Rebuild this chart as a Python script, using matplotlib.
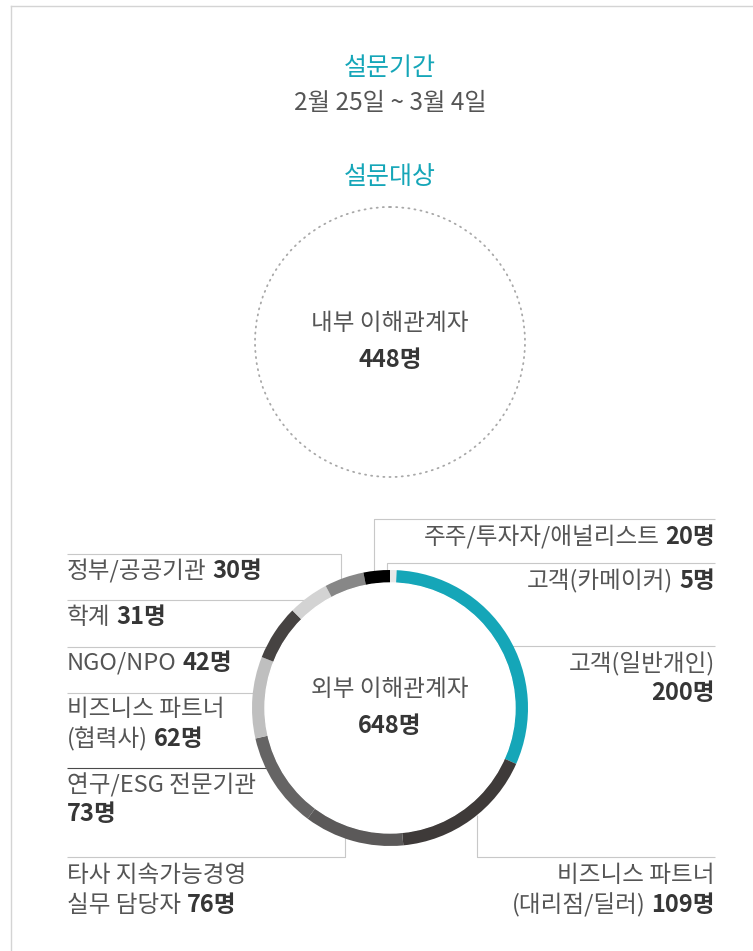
import matplotlib
matplotlib.use("Agg")
import matplotlib.pyplot as plt
import matplotlib.patches as patches

plt.rcParams["font.family"] = ["Noto Sans CJK KR", "DejaVu Sans"]

# ===============================
# DATOS
# ===============================
period_title = "설문기간"
period_text = "2월 25일 ~ 3월 4일"
target_title = "설문대상"

internal_label = "내부 이해관계자"
internal_count = 448
external_label = "외부 이해관계자"

# segmentos en el sentido de las agujas del reloj, desde arriba
seg_values = [5, 200, 109, 76, 73, 62, 42, 31, 30, 20]
seg_colors = ["#e8e8e8", "#15a6b8", "#3e3a39", "#5b5959", "#656464",
              "#bfbfbf", "#464342", "#d3d3d3", "#878787", "#000000"]
# (texto, número) por línea
seg_labels = [
    [("고객(카메이커)", "5명")],
    [("고객(일반개인)", ""), ("", "200명")],
    [("비즈니스 파트너", ""), ("(대리점/딜러)", "109명")],
    [("타사 지속가능경영", ""), ("실무 담당자", "76명")],
    [("연구/ESG 전문기관", ""), ("", "73명")],
    [("비즈니스 파트너", ""), ("(협력사)", "62명")],
    [("NGO/NPO", "42명")],
    [("학계", "31명")],
    [("정부/공공기관", "30명")],
    [("주주/투자자/애널리스트", "20명")],
]

# ===============================
# LAYOUT (pixeles)
# ===============================
W, H = 753, 951
CX, CY, R, RW = 390, 708, 138, 13
TEAL = "#15a6b8"
TXT = "#555555"
NUM = "#363636"
LINE = "#c8c8c8"
FS = 17
LH = 29

# posición de cada etiqueta: (x, y primera línea, alineación)
label_pos = [
    (715, 581, "right"),
    (715, 664, "right"),
    (715, 876, "right"),
    (67, 876, "left"),
    (67, 785, "left"),
    (67, 710, "left"),
    (67, 663, "left"),
    (67, 617, "left"),
    (67, 571, "left"),
    (715, 537, "right"),
]
# líneas guía: lista de puntos
leaders = [
    ([715, 387, 387], [563, 563, 575], LINE),
    ([715, 505], [646, 646], LINE),
    ([715, 477, 477], [857, 857, 815], LINE),
    ([67, 345, 345], [857, 857, 835], LINE),
    ([67, 275], [768, 768], "#4a4a4a"),
    ([67, 270], [693, 693], LINE),
    ([67, 275], [647, 647], LINE),
    ([67, 310], [600, 600], LINE),
    ([67, 341, 341], [554, 554, 580], LINE),
    ([715, 374, 374], [519, 519, 575], LINE),
]

fig = plt.figure(figsize=(W / 100, H / 100), dpi=100)
ax = fig.add_axes([0, 0, 1, 1])
fig.patch.set_facecolor("white")

# borde de la tarjeta
ax.plot([11, 11], [6, H], color="#d4d4d4", lw=1.0, zorder=1)
ax.plot([11, W], [6, 6], color="#d4d4d4", lw=1.0, zorder=1)

# cabecera
ax.text(CX, 68, period_title, color=TEAL, fontsize=18, ha="center", va="center")
ax.text(CX, 103, period_text, color=TXT, fontsize=17.5, ha="center", va="center")
ax.text(CX, 177, target_title, color=TEAL, fontsize=18, ha="center", va="center")

# círculo punteado (internos)
ax.add_patch(patches.Circle((CX, 342), 135, fill=False, ec="#a8a8a8", lw=1.3,
                            ls=(0, (0.6, 2.8)), capstyle="round", zorder=2))
ax.text(CX, 323, internal_label, color=TXT, fontsize=FS, ha="center", va="center")
ax.text(CX, 360, f"{internal_count}명", color=NUM, fontsize=FS, weight="bold",
        ha="center", va="center")

# líneas guía
for xs, ys, c in leaders:
    ax.plot(xs, ys, color=c, lw=0.8, zorder=2, solid_capstyle="butt")

# dona (externos)
ax.pie(seg_values, colors=seg_colors, startangle=-90, counterclock=True,
       radius=R, center=(CX, CY), frame=True,
       wedgeprops=dict(width=RW, linewidth=0, zorder=3))
ax.add_patch(patches.Circle((CX, CY), R - RW, color="white", zorder=3))
ax.text(CX, 690, external_label, color=TXT, fontsize=FS, ha="center", va="center",
        zorder=4)
ax.text(CX, 726, f"{sum(seg_values)}명", color=NUM, fontsize=FS, weight="bold",
        ha="center", va="center", zorder=4)

ax.set_xlim(0, W)
ax.set_ylim(H, 0)
ax.set_aspect("auto")
ax.axis("off")

renderer = fig.canvas.get_renderer()
GAP = 6


def put_line(x, y, reg, num, ha):
    if ha == "left":
        if reg:
            t = ax.text(x, y, reg, color=TXT, fontsize=FS, ha="left", va="center")
            x = x + t.get_window_extent(renderer).width + GAP
        if num:
            ax.text(x, y, num, color=NUM, fontsize=FS, weight="bold",
                    ha="left", va="center")
    else:
        if num:
            t = ax.text(x, y, num, color=NUM, fontsize=FS, weight="bold",
                        ha="right", va="center")
            x = x - t.get_window_extent(renderer).width - GAP
        if reg:
            ax.text(x, y, reg, color=TXT, fontsize=FS, ha="right", va="center")


for lines, (lx, ly, ha) in zip(seg_labels, label_pos):
    for i, (reg, num) in enumerate(lines):
        put_line(lx, ly + i * LH, reg, num, ha)

fig.savefig("out.png", dpi=100)
